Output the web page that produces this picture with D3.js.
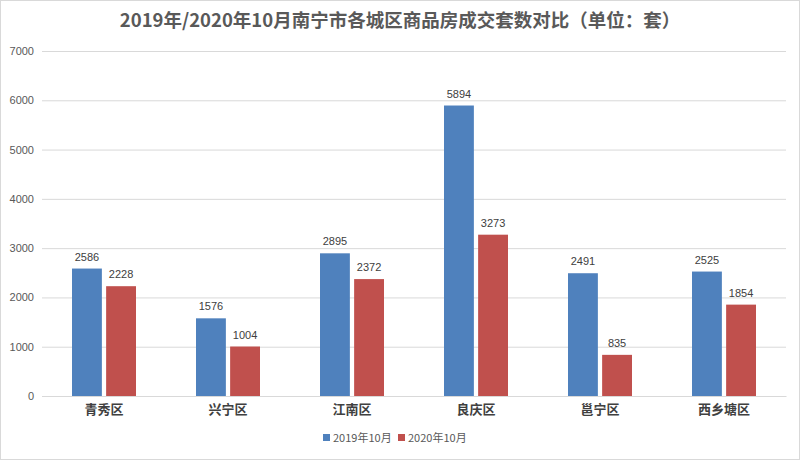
<!DOCTYPE html>
<html>
<head>
<meta charset="utf-8">
<script src="https://cdn.jsdelivr.net/npm/d3@7"></script>
<style>
  body { margin: 0; background: #fff; }
  svg { display: block; font-family: "Noto Sans CJK SC", "Microsoft YaHei", sans-serif; }
</style>
</head>
<body>
<div id="chart"></div>
<script>
const districts = ['青秀区', '兴宁区', '江南区', '良庆区', '邕宁区', '西乡塘区'];
const series = ['2019年10月', '2020年10月'];
const values2019 = [2586, 1576, 2895, 5894, 2491, 2525];
const values2020 = [2228, 1004, 2372, 3273, 835, 1854];
const yTicks = [0, 1000, 2000, 3000, 4000, 5000, 6000, 7000];
const colors = ['#4f81bd', '#c0504d'];

const width = 800, height = 460;
const margin = { top: 51, right: 14, bottom: 64, left: 42 };
const innerW = width - margin.left - margin.right;
const innerH = height - margin.top - margin.bottom;

const svg = d3.select('#chart').append('svg')
  .attr('width', width)
  .attr('height', height);

// outer frame
svg.append('rect')
  .attr('x', 0.5).attr('y', 0.5)
  .attr('width', width - 1).attr('height', height - 1)
  .attr('fill', '#fff')
  .attr('stroke', '#d9d9d9');

svg.append('text')
  .attr('x', width / 2)
  .attr('y', 27)
  .attr('text-anchor', 'middle')
  .attr('font-size', 18.5)
  .attr('font-weight', 'bold')
  .attr('fill', '#595959')
  .text('2019年/2020年10月南宁市各城区商品房成交套数对比（单位：套）');

const g = svg.append('g')
  .attr('transform', 'translate(' + margin.left + ',' + margin.top + ')');

const x0 = d3.scaleBand().domain(districts).range([0, innerW]);
const x1 = d3.scaleBand().domain(series).range([0, 64]).paddingInner(0.125);
const y = d3.scaleLinear().domain([0, 7000]).range([innerH, 0]);

// grid lines
g.append('g')
  .attr('class', 'grid')
  .call(d3.axisLeft(y).tickValues(yTicks).tickSize(-innerW).tickFormat(''))
  .call(s => s.select('.domain').remove())
  .call(s => s.selectAll('line').attr('stroke', '#d9d9d9'));

// y tick labels
g.append('g')
  .call(d3.axisLeft(y).tickValues(yTicks).tickSize(0).tickPadding(8).tickFormat(d3.format('d')))
  .call(s => s.select('.domain').remove())
  .call(s => s.selectAll('text')
    .attr('font-size', 11)
    .attr('fill', '#595959')
    .attr('font-family', 'Liberation Sans, Arial, sans-serif'));

const rows = districts.map((d, i) => ({ name: d, vals: [values2019[i], values2020[i]] }));

const groups = g.selectAll('.grp').data(rows).enter().append('g')
  .attr('class', 'grp')
  .attr('transform', d => 'translate(' + (x0(d.name) + x0.bandwidth() / 2 - 32) + ',0)');

groups.selectAll('rect').data(d => d.vals.map((v, j) => ({ s: series[j], v: v, j: j })))
  .enter().append('rect')
  .attr('x', d => x1(d.s))
  .attr('width', x1.bandwidth())
  .attr('y', d => y(d.v))
  .attr('height', d => innerH - y(d.v))
  .attr('fill', d => colors[d.j]);

groups.selectAll('.lbl').data(d => d.vals.map((v, j) => ({ s: series[j], v: v })))
  .enter().append('text')
  .attr('class', 'lbl')
  .attr('x', d => x1(d.s) + x1.bandwidth() / 2)
  .attr('y', d => y(d.v) - 8)
  .attr('text-anchor', 'middle')
  .attr('font-size', 11)
  .attr('fill', '#404040')
  .attr('font-family', 'Liberation Sans, Arial, sans-serif')
  .text(d => d.v);

// x axis
g.append('g')
  .attr('transform', 'translate(0,' + innerH + ')')
  .call(d3.axisBottom(x0).tickSize(0).tickPadding(9))
  .call(s => s.select('.domain').attr('stroke', '#d9d9d9'))
  .call(s => s.selectAll('text')
    .attr('font-size', 13)
    .attr('font-weight', 'bold')
    .attr('fill', '#404040')
    .attr('font-family', '"Noto Sans CJK SC", sans-serif'));

// legend
const legend = svg.append('g').attr('transform', 'translate(323,438)');
const legendX = [0, 75];
series.forEach((s, i) => {
  const item = legend.append('g').attr('transform', 'translate(' + legendX[i] + ',0)');
  item.append('rect')
    .attr('x', 0).attr('y', -4)
    .attr('width', 7).attr('height', 7)
    .attr('fill', colors[i]);
  item.append('text')
    .attr('x', 10).attr('y', 4)
    .attr('font-size', 11)
    .attr('fill', '#595959')
    .text(s);
});
</script>
</body>
</html>
